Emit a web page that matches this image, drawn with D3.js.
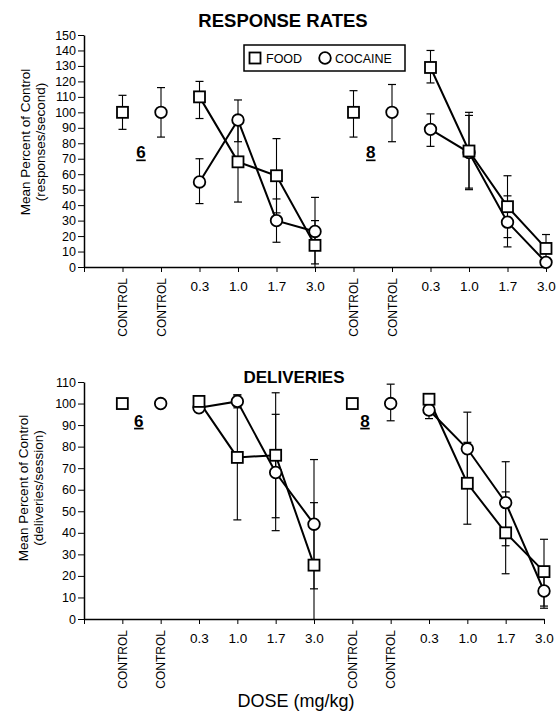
<!DOCTYPE html>
<html lang="en">
<head>
<meta charset="utf-8">
<title>response rates and deliveries</title>
<script src="https://cdnjs.cloudflare.com/ajax/libs/d3/7.8.5/d3.min.js"></script>
<style>
  body{margin:0;background:#fff;font-family:"Liberation Sans",Arial,Helvetica,sans-serif;}
  svg{display:block;}
  .tick text{font-size:12.5px;fill:#000;}
</style>
</head>
<body>
<div id="chart"></div>
<script>
// x slots: 1..12, slot 0 is the y axis
var xLabels = ["CONTROL","CONTROL","0.3","1.0","1.7","3.0","CONTROL","CONTROL","0.3","1.0","1.7","3.0"]
var subjects = ["6","8"]

// each array: control, 0.3, 1.0, 1.7, 3.0 mg/kg
// response rates
var rr6Food   = [100, 110, 68, 59, 14]
var rr6FoodHi = [111, 120, 94, 83, 30]
var rr6FoodLo = [89, 96, 42, 35, 0]
var rr6Coc    = [100, 55, 95, 30, 23]
var rr6CocHi  = [116, 70, 108, 44, 45]
var rr6CocLo  = [84, 41, 81, 16, 2]
var rr8Food   = [100, 129, 75, 39, 12]
var rr8FoodHi = [114, 140, 100, 59, 21]
var rr8FoodLo = [84, 119, 51, 19, 3]
var rr8Coc    = [100, 89, 74, 29, 3]
var rr8CocHi  = [118, 99, 98, 46, 6]
var rr8CocLo  = [81, 78, 50, 13, 0]

// deliveries
var del6Food   = [100, 101, 75, 76, 25]
var del6FoodHi = [100, 101, 104, 105, 54]
var del6FoodLo = [100, 101, 46, 47, 0]
var del6Coc    = [100, 98, 101, 68, 44]
var del6CocHi  = [100, 98, 104, 95, 74]
var del6CocLo  = [100, 98, 98, 41, 14]
var del8Food   = [100, 102, 63, 40, 22]
var del8FoodHi = [100, 102, 82, 59, 37]
var del8FoodLo = [100, 102, 44, 21, 6]
var del8Coc    = [100, 97, 79, 54, 13]
var del8CocHi  = [109, 101, 96, 73, 22]
var del8CocLo  = [92, 93, 63, 34, 5]

var W = 557, H = 719
var svg = d3.select("#chart").append("svg").attr("width", W).attr("height", H)

// turn a series into points with x slot
function makeSeries(kind, subj, mean, hi, lo){
    var offset = subj * 6
    return mean.map(function(v, i){
        var slot = i == 0 ? offset + (kind == "food" ? 1 : 2) : offset + 2 + i
        return {slot: slot, v: v, hi: hi[i], lo: lo[i], dose: i > 0}
    })
}

function drawSquare(g, x, y){
    g.append("rect").attr("x", x - 5.5).attr("y", y - 5.5).attr("width", 11).attr("height", 11)
        .attr("fill", "#fff").attr("stroke", "#000").attr("stroke-width", 1.8)
}
function drawCircle(g, x, y){
    g.append("circle").attr("cx", x).attr("cy", y).attr("r", 5.8)
        .attr("fill", "#fff").attr("stroke", "#000").attr("stroke-width", 1.8)
}

function drawPanel(cfg){
    var xScale = d3.scaleLinear().domain([0, 12]).range([84, cfg.xRight])
    var yScale = d3.scaleLinear().domain([0, cfg.yMax]).range([cfg.bottom, cfg.top])
    var g = svg.append("g")

    // y axis
    var yAxis = d3.axisLeft(yScale).tickValues(d3.range(0, cfg.yMax + 1, 10))
        .tickSize(6).tickSizeOuter(0).tickPadding(2)
    g.append("g").attr("transform", "translate(84,0)").call(yAxis)
        .call(function(a){ a.select(".domain").attr("stroke-width", 1.5) })

    // x axis
    var xAxis = d3.axisBottom(xScale).tickValues(d3.range(0, 13))
        .tickFormat(function(i){ return i == 0 ? "" : xLabels[i - 1] })
        .tickSize(5).tickSizeOuter(0).tickPadding(9)
    var xa = g.append("g").attr("transform", "translate(0," + cfg.bottom + ")").call(xAxis)
    xa.select(".domain").attr("stroke-width", 1.5)
    xa.selectAll(".tick text").style("font-size", "13.5px")
    xa.selectAll(".tick text").filter(function(d){ return d > 0 && xLabels[d - 1] == "CONTROL" })
        .attr("transform", "rotate(-90)")
        .attr("text-anchor", "end")
        .attr("x", -11).attr("y", 0).attr("dy", "0.35em")
        .style("font-size", "12px")

    // y label
    var yl = g.append("text").attr("transform", "translate(" + cfg.ylabX + "," + cfg.ylabY + ") rotate(-90)")
        .attr("text-anchor", "middle").style("font-size", "13.5px")
    yl.append("tspan").attr("x", 0).attr("y", 0).text("Mean Percent of Control")
    yl.append("tspan").attr("x", 0).attr("y", 15).text(cfg.ylab2)

    // title
    g.append("text").attr("x", cfg.titleX).attr("y", cfg.titleY).attr("text-anchor", "middle")
        .style("font-size", cfg.titleSize).style("font-weight", "bold").text(cfg.title)

    // subject numbers
    subjects.forEach(function(s, i){
        g.append("text").attr("x", xScale(cfg.subjSlots[i])).attr("y", yScale(cfg.subjVal))
            .attr("text-anchor", "middle").attr("dy", "0.35em")
            .style("font-size", "17px").style("font-weight", "bold")
            .style("text-decoration", "underline").text(s)
    })

    // error bars
    cfg.series.forEach(function(s){
        s.points.forEach(function(p){
            if (p.hi - p.lo < 0.5) return
            var x = xScale(p.slot)
            g.append("line").attr("x1", x).attr("x2", x).attr("y1", yScale(p.hi)).attr("y2", yScale(p.lo))
                .attr("stroke", "#000").attr("stroke-width", 1.1)
            ;[p.hi, p.lo].forEach(function(e){
                if (e <= 0) return
                g.append("line").attr("x1", x - 4).attr("x2", x + 4).attr("y1", yScale(e)).attr("y2", yScale(e))
                    .attr("stroke", "#000").attr("stroke-width", 1.2)
            })
        })
    })

    // dose-effect lines
    var line = d3.line().x(function(p){ return xScale(p.slot) }).y(function(p){ return yScale(p.v) })
    cfg.series.forEach(function(s){
        g.append("path").datum(s.points.filter(function(p){ return p.dose }))
            .attr("d", line).attr("fill", "none").attr("stroke", "#000").attr("stroke-width", 2)
    })

    // markers, circles under squares
    cfg.series.filter(function(s){ return s.kind == "coc" }).forEach(function(s){
        s.points.forEach(function(p){ drawCircle(g, xScale(p.slot), yScale(p.v)) })
    })
    cfg.series.filter(function(s){ return s.kind == "food" }).forEach(function(s){
        s.points.forEach(function(p){ drawSquare(g, xScale(p.slot), yScale(p.v)) })
    })
}

drawPanel({
    yMax: 150, top: 35, bottom: 267, xRight: 546,
    title: "RESPONSE RATES", titleX: 283, titleY: 27, titleSize: "18.5px",
    ylab2: "(responses/second)", ylabX: 30, ylabY: 142,
    subjSlots: [1.48, 7.45], subjVal: 74,
    series: [
        {kind: "food", points: makeSeries("food", 0, rr6Food, rr6FoodHi, rr6FoodLo)},
        {kind: "coc", points: makeSeries("coc", 0, rr6Coc, rr6CocHi, rr6CocLo)},
        {kind: "food", points: makeSeries("food", 1, rr8Food, rr8FoodHi, rr8FoodLo)},
        {kind: "coc", points: makeSeries("coc", 1, rr8Coc, rr8CocHi, rr8CocLo)}
    ]
})

drawPanel({
    yMax: 110, top: 382, bottom: 619, xRight: 544,
    title: "DELIVERIES", titleX: 294, titleY: 383, titleSize: "17px",
    ylab2: "(deliveries/session)", ylabX: 28, ylabY: 488,
    subjSlots: [1.43, 7.33], subjVal: 92,
    series: [
        {kind: "food", points: makeSeries("food", 0, del6Food, del6FoodHi, del6FoodLo)},
        {kind: "coc", points: makeSeries("coc", 0, del6Coc, del6CocHi, del6CocLo)},
        {kind: "food", points: makeSeries("food", 1, del8Food, del8FoodHi, del8FoodLo)},
        {kind: "coc", points: makeSeries("coc", 1, del8Coc, del8CocHi, del8CocLo)}
    ]
})

// legend
var lg = svg.append("g")
lg.append("rect").attr("x", 244).attr("y", 45).attr("width", 161).attr("height", 26)
    .attr("fill", "#fff").attr("stroke", "#000").attr("stroke-width", 1.5)
drawSquare(lg, 255, 58)
lg.append("text").attr("x", 266).attr("y", 62.5).style("font-size", "12.5px").text("FOOD")
drawCircle(lg, 325, 58)
lg.append("text").attr("x", 335).attr("y", 62.5).style("font-size", "12.5px").text("COCAINE")

// shared x label
svg.append("text").attr("x", 296).attr("y", 707).attr("text-anchor", "middle")
    .style("font-size", "18px").text("DOSE (mg/kg)")
</script>
</body>
</html>
